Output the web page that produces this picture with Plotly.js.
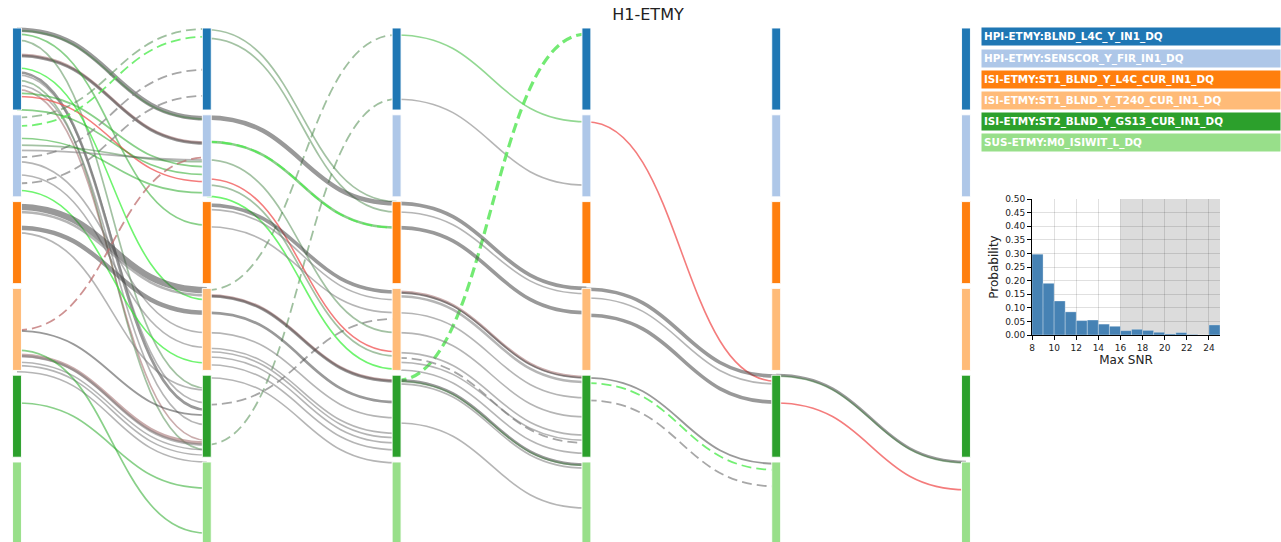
<!DOCTYPE html>
<html>
<head>
<meta charset="utf-8">
<script src="https://cdn.plot.ly/plotly-3.0.1.min.js"></script>
<style>html,body{margin:0;padding:0;background:#fff;}#chart{width:1281px;height:542px;}</style>
</head>
<body>
<div id="chart"></div>
<script>
// ---- Data ----
const channels = [
  "HPI-ETMY:BLND_L4C_Y_IN1_DQ",
  "HPI-ETMY:SENSCOR_Y_FIR_IN1_DQ",
  "ISI-ETMY:ST1_BLND_Y_L4C_CUR_IN1_DQ",
  "ISI-ETMY:ST1_BLND_Y_T240_CUR_IN1_DQ",
  "ISI-ETMY:ST2_BLND_Y_GS13_CUR_IN1_DQ",
  "SUS-ETMY:M0_ISIWIT_L_DQ"
];
const channelColors = ["#1f77b4","#aec7e8","#ff7f0e","#ffbb78","#2ca02c","#98df8a"];
const rounds = [0,1,2,3,4,5];

// links between consecutive rounds: position = channel index + fraction within its block
const linkGap = [
  0,0,0,0,0,0,0,0,0,0,0,0,0,0,0,0,0,0,0,0,0,0,0,0,0,0,0,0,0,0,0,0,0,0,0,0,0,0,
  1,1,1,1,1,1,1,1,1,1,1,1,1,1,1,1,1,1,1,1,1,1,1,1,
  2,2,2,2,2,2,2,2,2,2,2,2,2,2,2,2,2,2,2,
  3,3,3,3,3,3,3,
  4,4,4
];
const linkFrom = [
  0.02,0.03,0.31,0.32,0.14,0.07,0.51,0.54,0.46,0.60,0.66,0.71,0.79,0.75,0.94,
  1.03,1.13,1.49,1.79,1.27,1.41,1.54,1.69,1.87,1.35,
  2.06,2.12,2.30,2.36,
  3.48,3.49,3.77,3.78,3.85,3.89,3.96,
  4.32,3.71,
  0.02,0.12,3.02,4.80,4.34,1.03,1.31,1.31,1.52,1.74,1.81,1.94,2.04,2.09,2.29,3.08,3.09,3.28,3.51,3.69,3.73,3.79,3.88,4.03,
  0.08,0.82,4.06,2.02,2.12,2.30,3.04,3.05,3.09,3.28,3.51,3.74,3.80,3.85,3.94,4.06,4.07,4.10,4.55,
  1.08,3.01,3.11,3.31,4.03,4.09,4.29,
  4.00,4.01,4.32
];
const linkTo = [
  1.04,1.05,1.32,1.33,4.15,2.27,4.40,4.32,3.13,4.86,4.57,4.75,1.77,1.60,1.69,
  0.01,0.10,0.48,0.78,1.90,1.52,3.51,3.68,3.86,1.54,
  3.02,3.08,3.28,4.17,
  1.49,4.46,4.78,4.80,4.86,4.92,5.00,
  5.30,5.82,
  2.00,2.12,0.08,0.82,3.35,2.02,2.30,2.30,3.51,3.73,3.78,3.93,3.04,3.13,3.28,4.06,4.07,4.31,4.49,4.67,4.72,4.78,4.86,5.01,
  1.08,1.81,0.07,3.00,3.06,3.28,4.02,4.03,4.08,4.26,4.48,4.69,4.78,4.75,4.90,5.03,5.04,5.07,5.53,
  4.07,4.01,4.10,4.31,5.02,5.09,5.28,
  5.00,5.01,5.32
];
const linkKind = [
  "dark","greengray","reddish","dark","greengray","green","dark","gray","bright","greengray","gray","reddish","red","green","green",
  "dashGreenGray","dashBright","dashGray","dashGray","green","gray","gray","gray","bright","greengray",
  "dark","gray","dark","gray",
  "dashReddish","dark","reddish","gray","gray","gray","gray",
  "green","green",
  "greengray","greengray","dashGreenGray","dashGreenGray","dashGray","dark","green","dashBright","greengray","red","greengray","bright","dark","gray","gray","reddish","dark","dark","gray","gray","gray","gray","gray","gray",
  "lightgreen","gray","dashBrightThick","dark","gray","dark","reddish","dark","gray","gray","gray","gray","dashGray","gray","gray","dark","greengray","gray","gray",
  "red","dark","gray","dark","dark","dashBright","dashGray",
  "dark","greengray","red"
];
const linkCount = [
  4,1,2,2,1,1,2,1,1,1,1,1,1,1,1,
  1,1,1,1,1,1,1,1,1,1,
  6,2,4,1,
  1,1,3,2,1,1,1,
  1,1,
  1,1,1,1,1,4,2,1,1,1,1,1,3,1,1,2,2,2,1,1,1,1,1,1,
  1,1,1,3,1,3,2,1,2,1,1,1,1,1,1,2,1,1,1,
  1,3,1,3,1,1,1,
  2,1,1
];

// histogram of max SNR
const snrBins = [8.5,9.5,10.5,11.5,12.5,13.5,14.5,15.5,16.5,17.5,18.5,19.5,20.5,21.5,22.5,23.5,24.5];
const snrProb = [0.297,0.19,0.125,0.085,0.053,0.055,0.040,0.032,0.016,0.021,0.017,0.010,0.004,0.009,0.002,0,0.037];
const snrThreshold = 16;

// ---- Styles ----
const kindStyle = {
  dark:{c:"rgba(70,70,70,0.55)",w:1.8,d:"solid"},
  gray:{c:"rgba(120,120,120,0.55)",w:1.6,d:"solid"},
  greengray:{c:"rgba(50,120,50,0.45)",w:1.7,d:"solid"},
  green:{c:"rgba(40,170,40,0.55)",w:1.7,d:"solid"},
  bright:{c:"rgba(50,240,50,0.7)",w:1.6,d:"solid"},
  lightgreen:{c:"rgba(100,200,100,0.7)",w:1.6,d:"solid"},
  red:{c:"rgba(240,80,80,0.75)",w:1.6,d:"solid"},
  reddish:{c:"rgba(150,90,90,0.5)",w:1.7,d:"solid"},
  dashGray:{c:"rgba(130,130,130,0.7)",w:1.8,d:"10px,5px"},
  dashGreenGray:{c:"rgba(80,140,80,0.55)",w:1.8,d:"10px,5px"},
  dashBright:{c:"rgba(80,235,80,0.8)",w:1.8,d:"10px,5px"},
  dashBrightThick:{c:"rgba(90,230,90,0.85)",w:3.2,d:"10px,5px"},
  dashReddish:{c:"rgba(190,110,110,0.75)",w:1.8,d:"10px,5px"}
};

const shapes = [];
for (let i = 0; i < linkGap.length; i++) {
  const x0 = rounds[linkGap[i]], x1 = rounds[linkGap[i] + 1], xm = (x0 + x1) / 2;
  const y0 = linkFrom[i], y1 = linkTo[i];
  const st = kindStyle[linkKind[i]];
  shapes.push({
    type: "path", xref: "x", yref: "y", layer: "below",
    path: `M ${x0},${y0} C ${xm},${y0} ${xm},${y1} ${x1},${y1}`,
    line: {color: st.c, width: st.w + (linkCount[i] - 1) * 0.9, dash: st.d}
  });
}
shapes.push({type:"rect", xref:"x2", yref:"y2 domain", x0:snrThreshold, x1:25, y0:0, y1:1,
  fillcolor:"#dcdcdc", line:{width:0}, layer:"below"});

const traces = [];
const blockSize = 0.945;
channels.forEach((ch, k) => {
  traces.push({
    type: "bar", x: rounds, y: rounds.map(() => blockSize), base: rounds.map(() => k),
    width: 0.047, marker: {color: channelColors[k], line: {color: "rgba(255,255,255,0.9)", width: 1}},
    hoverinfo: "skip", showlegend: false, xaxis: "x", yaxis: "y"
  });
});
traces.push({
  type: "bar", x: snrBins, y: snrProb, width: 1, xaxis: "x2", yaxis: "y2",
  marker: {color: "#4682b4", line: {color: "rgba(255,255,255,0.6)", width: 0.5}}, showlegend: false
});

const annotations = channels.map((ch, k) => ({
  xref: "paper", yref: "paper", x: 981/1281, y: 1 - (36.8 + k*21.2)/542,
  xanchor: "left", yanchor: "middle", align: "left",
  text: "<b>" + ch + "</b>", showarrow: false,
  font: {family: "DejaVu Sans", size: 10.4, color: "#ffffff"},
  bgcolor: channelColors[k], width: 294, height: 13, borderpad: 2
}));

const layout = {
  width: 1281, height: 542,
  margin: {l: 0, r: 0, t: 0, b: 0},
  paper_bgcolor: "#ffffff", plot_bgcolor: "rgba(0,0,0,0)",
  font: {family: "DejaVu Sans", color: "#222"},
  title: {text: "H1-ETMY", x: 648/1281, y: 1 - 14/542, xanchor: "center", yanchor: "middle",
    font: {family: "DejaVu Sans", size: 16, color: "#222"}},
  barmode: "overlay", bargap: 0,
  xaxis: {domain: [0, 1], range: [-17/189.8, (1281-17)/189.8], visible: false, fixedrange: true},
  yaxis: {domain: [0, 1], range: [(542-28)/86.8, -28/86.8], visible: false, fixedrange: true},
  xaxis2: {domain: [1032/1281, 1220/1281], anchor: "y2", range: [8, 25], tick0: 8, dtick: 2,
    showgrid: true, gridcolor: "rgba(0,0,0,0.12)", zeroline: false,
    showline: true, linecolor: "#000", linewidth: 1, ticks: "outside", ticklen: 4, tickcolor: "#000",
    tickfont: {size: 9, color: "#222"}, title: {text: "Max SNR", font: {size: 12, color: "#222"}, standoff: 2}},
  yaxis2: {domain: [1 - 335/542, 1 - 199/542], anchor: "x2", range: [0, 0.5], dtick: 0.05, tickformat: ".2f",
    showgrid: true, gridcolor: "rgba(0,0,0,0.12)", zeroline: false,
    showline: true, linecolor: "#000", linewidth: 1, ticks: "outside", ticklen: 4, tickcolor: "#000",
    tickfont: {size: 9, color: "#222"}, title: {text: "Probability", font: {size: 12, color: "#222"}, standoff: 3}},
  shapes: shapes,
  annotations: annotations,
  showlegend: false
};

Plotly.newPlot("chart", traces, layout, {displayModeBar: false, staticPlot: true});
</script>
</body>
</html>
